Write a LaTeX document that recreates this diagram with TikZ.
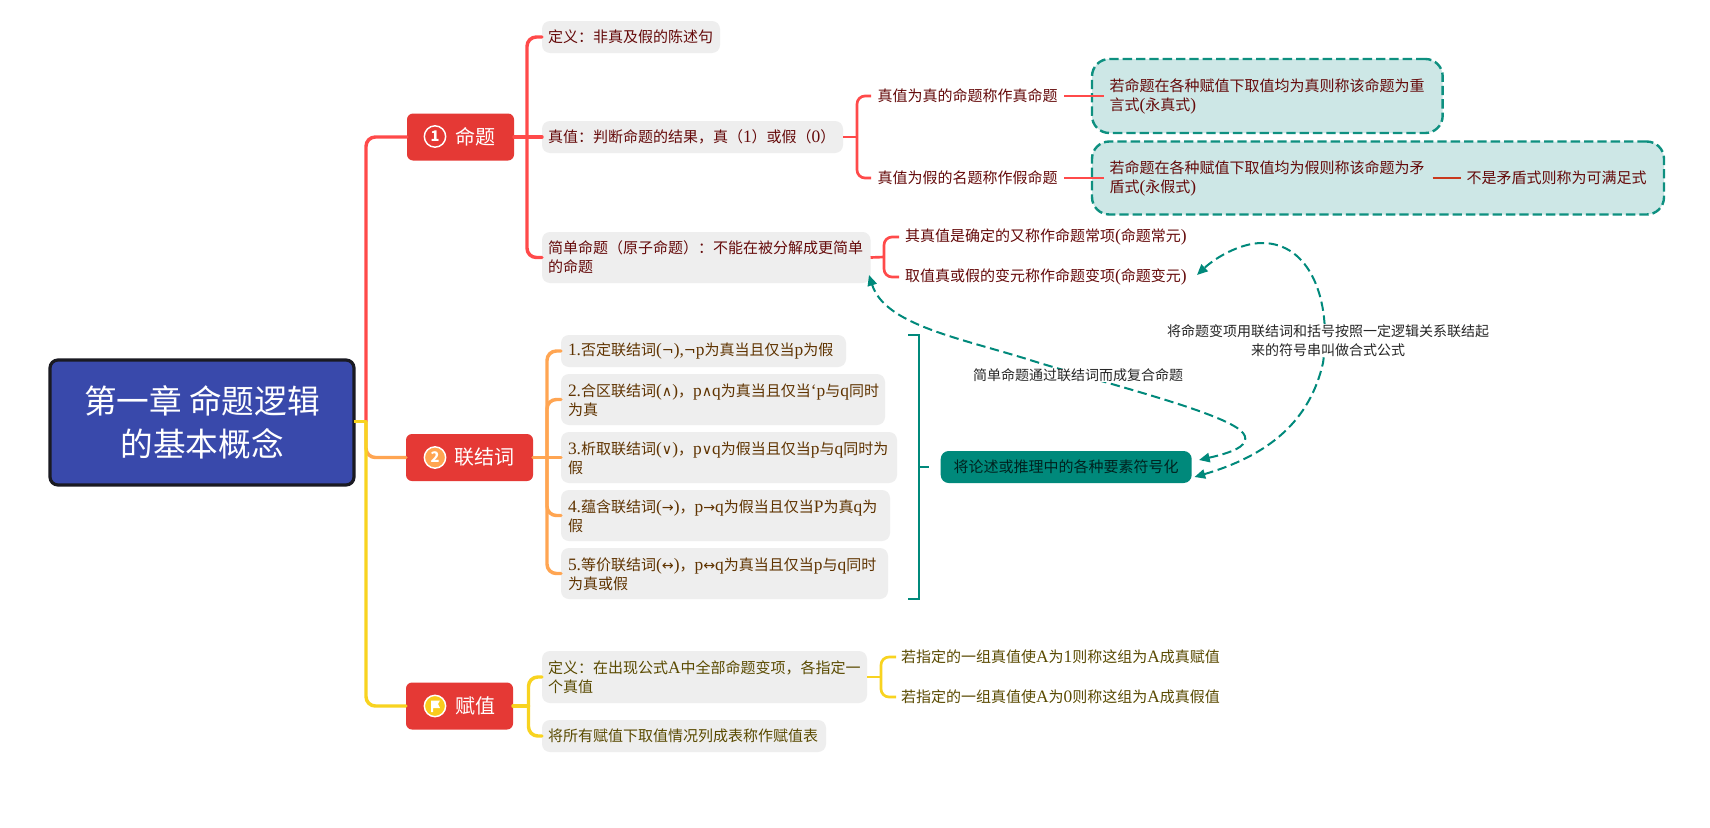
\documentclass[tikz,border=0pt]{standalone}
\usepackage{fontspec}
\setmainfont{Noto Sans CJK SC}
\newfontfamily\latf{Liberation Serif}[Scale=1.16]
\newfontfamily\symf{DejaVu Sans}[Scale=0.95]
\newcommand{\La}[1]{{\latf #1}}
\newcommand{\Sy}[1]{{\symf #1}}
\newcommand{\FC}{\symbol{"FF1A}}
\newcommand{\FM}{\symbol{"FF0C}}
\newcommand{\FL}{\symbol{"FF08}}
\newcommand{\FR}{\symbol{"FF09}}
\usetikzlibrary{arrows.meta,calc}
\definecolor{cred}{HTML}{FF4A4A}
\definecolor{corange}{HTML}{FFA552}
\definecolor{cyellow}{HTML}{F8D320}
\definecolor{cteal}{HTML}{00897B}
\definecolor{ctealb}{HTML}{0E9080}
\definecolor{clight}{HTML}{CDE7E6}
\definecolor{cbox}{HTML}{EEEEEE}
\definecolor{topic}{HTML}{E53935}
\definecolor{rootc}{HTML}{3949AB}
\definecolor{rootb}{HTML}{1A1A22}
\definecolor{txtr}{HTML}{650A0A}
\definecolor{txto}{HTML}{5F3300}
\definecolor{txty}{HTML}{5A4A00}
\tikzset{
 x=0.75pt,y=-0.75pt,
 every node/.style={inner sep=0pt,outer sep=0pt},
 rootbox/.style={draw=rootb,line width=2.4pt,fill=rootc,rounded corners=6pt,text=white},
 topicbox/.style={fill=topic,rounded corners=4.5pt,text=white},
 subbox/.style={fill=cbox,rounded corners=6pt},
 body/.style={font=\fontsize{11.25pt}{14.4pt}\selectfont,align=left,anchor=west},
 note/.style={font=\fontsize{10.5pt}{14.25pt}\selectfont,align=center,fill=white,text=black!85},
 wide/.style={line width=2.6pt,line cap=round,rounded corners=7pt},
 thin/.style={line width=2pt,rounded corners=6pt},
 tealdash/.style={draw=ctealb,line width=1.8pt,dash pattern=on 7pt off 3pt,fill=clight,rounded corners=13pt},
 rel/.style={draw=cteal,line width=1.5pt,dash pattern=on 7pt off 3.5pt,{Triangle[length=8pt,width=7pt]}-{Triangle[length=8pt,width=7pt]}},
 icon/.style={circle,draw=white,line width=1.1pt,minimum size=16pt,text=white,font=\fontsize{11pt}{11pt}\selectfont\bfseries},
}
\begin{document}
\begin{tikzpicture}
\useasboundingbox (0,0) rectangle (1710,828);
\fill[white] (0,0) rectangle (1710,828);

% trunk junction
\coordinate (J) at (366,421.5);
\coordinate (JR) at (366,137);
\coordinate (JO) at (366,457.5);
\coordinate (JY) at (366,706);
% topics
\node[topicbox,minimum width=80.25pt,minimum height=35.25pt] (t1) at (460.5,137) {};
\node[topicbox,minimum width=95.25pt,minimum height=35.25pt] (t2) at (469.5,457.5) {};
\node[topicbox,minimum width=80.25pt,minimum height=35.25pt] (t3) at (459.5,706) {};
% root
\node[rootbox,minimum width=228pt,minimum height=93.75pt] (root) at (202,422.5) {};
\node[text=white,font=\fontsize{24.5pt}{32.25pt}\selectfont,align=center] (roottext) at (root.center) {第一章 命题逻辑\\的基本概念};

% L1 branches
\draw[cred,wide] (J) -- (JR) -- (t1.west);
\draw[corange,wide] (J) -- (JO) -- (t2.west);
\draw[cyellow,wide] (J) -- (JY) -- (t3.west);
\draw[cyellow,line width=2.6pt] (root.east|-J) -- (J);

% red children
\node[subbox,minimum width=133.5pt,minimum height=24pt,anchor=west] (r1) at (542,37) {};
\node[body,text=txtr] (r1t) at (548,37) {定义\FC 非真及假的陈述句};
\node[subbox,minimum width=225.75pt,minimum height=24pt,anchor=west] (r2) at (542,137) {};
\node[body,text=txtr] (r2t) at (548,137) {真值\FC 判断命题的结果\FM 真\FL\La{1}\FR 或假\FL\La{0}\FR};
\node[subbox,minimum width=246.4pt,minimum height=38.25pt,anchor=west] (r3) at (542,257.5) {};
\node[body,text=txtr] (r3t) at (548,257.5) {简单命题\FL 原子命题\FR\FC 不能在被分解成更简单\\的命题};
\coordinate (Rb) at (527,137);
\draw[cred,wide] (t1.east) -- (Rb);
\draw[cred,wide] (r1.west) -- (Rb|-r1.west) -- (Rb|-r3.west) -- (r3.west);
\draw[cred,wide] (Rb) -- (r2.west);

% true / false
\node[body,text=txtr] (tv) at (877.5,96) {真值为真的命题称作真命题};
\node[body,text=txtr] (fv) at (877.5,178) {真值为假的名题称作假命题};
\coordinate (Vb) at (857,137);
\coordinate (Vt) at (871,96);
\coordinate (Vf) at (871,178);
\draw[cred,thin] (r2.east) -- (Vb);
\draw[cred,thin] (Vt) -- (Vb|-Vt) -- (Vb|-Vf) -- (Vf);

\node[tealdash,minimum width=263pt,minimum height=55.5pt,anchor=west] (b1) at (1092,96) {};
\node[tealdash,minimum width=429pt,minimum height=54.75pt,anchor=west] (b2) at (1092,178) {};
\coordinate (l1a) at (1064,96); \coordinate (l1b) at (1104,96);
\coordinate (l2a) at (1064,178); \coordinate (l2b) at (1104,178);
\draw[cred,line width=1.7pt] (l1a) -- (l1b);
\draw[cred,line width=1.7pt] (l2a) -- (l2b);
\node[body,text=txtr] (b1t) at (1109.5,96.5) {若命题在各种赋值下取值均为真则称该命题为重\\言式{\latf (}永真式{\latf )}};
\node[body,text=txtr] (b2t) at (1109.5,178.5) {若命题在各种赋值下取值均为假则称该命题为矛\\盾式{\latf (}永假式{\latf )}};
\node[body,text=txtr] (b3t) at (1466.5,178) {不是矛盾式则称为可满足式};
\coordinate (l3a) at (1432.5,178); \coordinate (l3b) at (1460.5,178);
\draw[red!50!brown!90!black,line width=1.7pt] (l3a) -- (l3b);

% simple children
\node[body,text=txtr] (s1) at (905,237) {其真值是确定的又称作命题常项\La{(}命题常元\La{)}};
\node[body,text=txtr] (s2) at (905,277) {取值真或假的变元称作命题变项\La{(}命题变元\La{)}};
\coordinate (Sb) at (884,257);
\coordinate (Sa) at (899,237);
\coordinate (Sc) at (899,277);
\draw[cred,thin] (r3.east) -- (Sb);
\draw[cred,thin] (Sa) -- (Sb|-Sa) -- (Sb|-Sc) -- (Sc);

% orange children
\node[subbox,minimum width=213.75pt,minimum height=24pt,anchor=west] (o1) at (561,351) {};
\node[subbox,minimum width=243pt,minimum height=38.25pt,anchor=west] (o2) at (561,399.5) {};
\node[subbox,minimum width=252pt,minimum height=38.25pt,anchor=west] (o3) at (561,457.5) {};
\node[subbox,minimum width=246.75pt,minimum height=38.25pt,anchor=west] (o4) at (561,515.5) {};
\node[subbox,minimum width=245.25pt,minimum height=38.25pt,anchor=west] (o5) at (561,573.5) {};
\node[body,text=txto] (o1t) at (568,351) {\La{1.}否定联结词\La{(}\Sy{¬}\La{),}\Sy{¬}\La{p}为真当且仅当\La{p}为假};
\node[body,text=txto] (o2t) at (568,400) {\La{2.}合区联结词\La{(}\Sy{∧}\La{)}\FM\La{p}\Sy{∧}\La{q}为真当且仅当\La{‘p}与\La{q}同时\\为真};
\node[body,text=txto] (o3t) at (568,458) {\La{3.}析取联结词\La{(}\Sy{∨}\La{)}\FM\La{p}\Sy{∨}\La{q}为假当且仅当\La{p}与\La{q}同时为\\假};
\node[body,text=txto] (o4t) at (568,516) {\La{4.}蕴含联结词\La{(}\Sy{→}\La{)}\FM\La{p}\Sy{→}\La{q}为假当且仅当\La{P}为真\La{q}为\\假};
\node[body,text=txto] (o5t) at (568,574) {\La{5.}等价联结词\La{(}\Sy{↔}\La{)}\FM\La{p}\Sy{↔}\La{q}为真当且仅当\La{p}与\La{q}同时\\为真或假};
\coordinate (Ob) at (547,457.5);
\draw[corange,wide] (t2.east) -- (o3.west);
\draw[corange,wide] (o1.west) -- (Ob|-o1.west) -- (Ob|-o5.west) -- (o5.west);
\draw[corange,wide] (o2.west) -- (Ob|-o2.west) -- (Ob);
\draw[corange,wide] (o4.west) -- (Ob|-o4.west) -- (Ob);

% bracket and summary
\node[fill=cteal,rounded corners=6pt,minimum width=188.25pt,minimum height=24pt,text=black!75!cteal,font=\fontsize{11.25pt}{14pt}\selectfont] (sum) at (1066.2,467) {将论述或推理中的各种要素符号化};
\coordinate (bt) at (908,335); \coordinate (bb) at (908,599); \coordinate (bs) at (919,467);
\coordinate (bstem) at (929,467);
\draw[cteal,line width=1.6pt] (bt) -- (bs|-bt) -- (bs|-bb) -- (bb);
\draw[cteal,line width=1.6pt] (bs) -- (bstem);

% yellow children
\node[subbox,minimum width=243.75pt,minimum height=39pt,anchor=west] (y1) at (542,677) {};
\node[subbox,minimum width=213pt,minimum height=24pt,anchor=west] (y2) at (542,736) {};
\node[body,text=txty] (y1t) at (548,677.5) {定义\FC 在出现公式\La{A}中全部命题变项\FM 各指定一\\个真值};
\node[body,text=txty] (y2t) at (548,736) {将所有赋值下取值情况列成表称作赋值表};
\coordinate (Yb) at (528.5,706);
\draw[cyellow,wide] (t3.east) -- (Yb);
\draw[cyellow,wide] (y1.west) -- (Yb|-y1.west) -- (Yb|-y2.west) -- (y2.west);
\node[body,text=txty] (z1) at (901,657) {若指定的一组真值使\La{A}为\La{1}则称这组为\La{A}成真赋值};
\node[body,text=txty] (z2) at (901,697) {若指定的一组真值使\La{A}为\La{0}则称这组为\La{A}成真假值};
\coordinate (Zb) at (881,677);
\coordinate (Za) at (896,657);
\coordinate (Zc) at (896,697);
\draw[cyellow,thin] (y1.east) -- (Zb);
\draw[cyellow,thin] (Za) -- (Zb|-Za) -- (Zb|-Zc) -- (Zc);

% relation curves
\coordinate (A0) at (1199,460);
\coordinate (A1) at (869,275);
\coordinate (B0) at (1194.5,477);
\coordinate (B1) at (1197,275);
\draw[rel] (A0) .. controls (1212,457) and (1222,455) .. (1232,451)
  .. controls (1245,446) and (1250,438) .. (1240,430)
  .. controls (1215,410) and (1100,382) .. (1030,360)
  .. controls (960,338) and (885,325) .. (A1);
\draw[rel] (B0) .. controls (1270,455) and (1310,420) .. (1323,363)
  .. controls (1332,300) and (1310,243) .. (1262,243)
  .. controls (1240,243) and (1215,258) .. (B1);

\node[note] (n1) at (1078,375.5) {简单命题通过联结词而成复合命题};
\node[note] (n2) at (1328,340.5) {将命题变项用联结词和括号按照一定逻辑关系联结起\\来的符号串叫做合式公式};

% topic labels
\node[icon,fill=topic] (i1) at (435,136.5) {1};
\node[text=white,font=\fontsize{15pt}{15pt}\selectfont] (t1t) at (475.5,136.5) {命题};
\node[icon,fill=corange] (i2) at (435,457.5) {2};
\node[text=white,font=\fontsize{15pt}{15pt}\selectfont] (t2t) at (484.5,457) {联结词};
\node[icon,fill=cyellow!90!orange] (i3) at (435,706) {};
\fill[white] (431,700.5) -- (440,700.5) -- (438,704) -- (440,708) -- (433,708) -- (433,712) -- (431,712) -- cycle;
\node[text=white,font=\fontsize{15pt}{15pt}\selectfont] (t3t) at (475.5,706) {赋值};
\end{tikzpicture}
\end{document}
